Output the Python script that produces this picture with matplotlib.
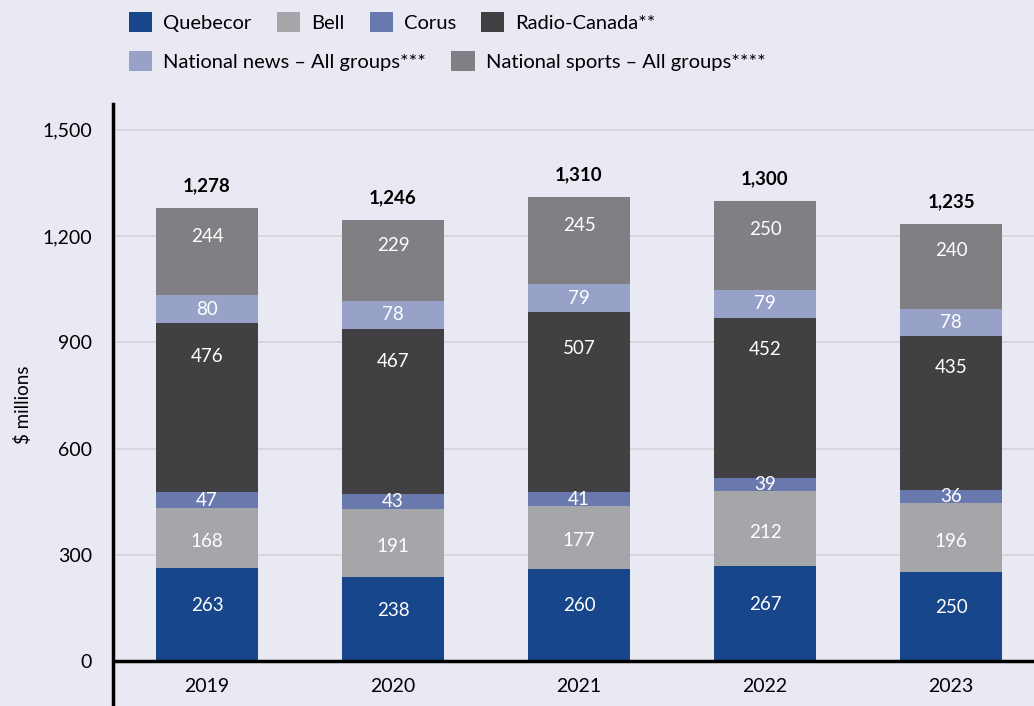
import numpy as np
import matplotlib
matplotlib.use("Agg")
import matplotlib.pyplot as plt
from matplotlib.patches import Patch

####################################
#               Data               #
####################################

years = ["2019", "2020", "2021", "2022", "2023"]
series_names = ["Quebecor", "Bell", "Corus", "Radio-Canada**",
                "National news \u2013 All groups***", "National sports \u2013 All groups****"]
quebecor = [263, 238, 260, 267, 250]
bell = [168, 191, 177, 212, 196]
corus = [47, 43, 41, 39, 36]
radio_canada = [476, 467, 507, 452, 435]
national_news = [80, 78, 79, 79, 78]
national_sports = [244, 229, 245, 250, 240]
totals = [1278, 1246, 1310, 1300, 1235]
yticks = [0, 300, 600, 900, 1200, 1500]

####################################
#              Styles              #
####################################

colors = ["#17468a", "#a5a6aa", "#6a79ad", "#414143", "#98a2c9", "#808084"]
# where the value label sits inside each segment (fraction of segment height)
label_frac = [0.6, 0.45, 0.5, 0.8, 0.5, 0.68]
bg = "#e9e9f3"
font = "Lato"

plt.rcParams["font.family"] = [font, "DejaVu Sans"]

####################################
#               Main               #
####################################

fig = plt.figure(figsize=(10.34, 7.06), dpi=100, facecolor=bg)
ax = fig.add_axes([113 / 1034, 0, 1 - 113 / 1034, (706 - 104) / 706])
ax.set_facecolor(bg)

x = np.arange(len(years))
data = [quebecor, bell, corus, radio_canada, national_news, national_sports]
bottom = np.zeros(len(years))
for vals, col, frac in zip(data, colors, label_frac):
    vals = np.array(vals, dtype=float)
    ax.bar(x, vals, width=0.55, bottom=bottom, color=col, zorder=3)
    for xi, b, v in zip(x, bottom, vals):
        ax.text(xi, b + v * frac, "{:d}".format(int(v)), ha="center", va="center",
                color="white", fontsize=13.5, zorder=4)
    bottom += vals

for xi, t in zip(x, totals):
    ax.annotate("{:,}".format(t), (xi, t), xytext=(0, 10), textcoords="offset points",
                ha="center", va="bottom", fontsize=13.5, fontweight="bold", color="black")

ax.set_xlim(-0.505, 4.446)
ax.set_ylim(-127, 1573)

for yt in yticks[1:]:
    ax.axhline(yt, color="#d3d3dc", lw=1.2, zorder=1)
ax.axhline(0, color="black", lw=2.5, zorder=5)

ax.set_yticks(yticks)
ax.set_yticklabels(["{:,}".format(v) for v in yticks], fontsize=14)
ax.tick_params(axis="y", length=0, pad=15)
ax.set_xticks([])
for xi, yr in zip(x, years):
    ax.text(xi, -72, yr, ha="center", va="center", fontsize=14)

for s in ["top", "right", "bottom"]:
    ax.spines[s].set_visible(False)
ax.spines["left"].set_linewidth(2.5)
ax.set_ylabel("$ millions", fontsize=13.5)
ax.yaxis.set_label_coords(-0.088, 0.5)

handles = [Patch(facecolor=c, edgecolor="none") for c in colors]
leg_kw = dict(loc="upper left", frameon=False, fontsize=14.5, handlelength=1.15,
              handleheight=1.15, handletextpad=0.55, columnspacing=1.25)
fig.legend(handles[:4], series_names[:4], ncol=4,
           bbox_to_anchor=(111 / 1034, 1.008), **leg_kw)
fig.legend(handles[4:], series_names[4:], ncol=2,
           bbox_to_anchor=(111 / 1034, 0.953), **leg_kw)

plt.savefig("out.png", dpi=100, facecolor=bg)
